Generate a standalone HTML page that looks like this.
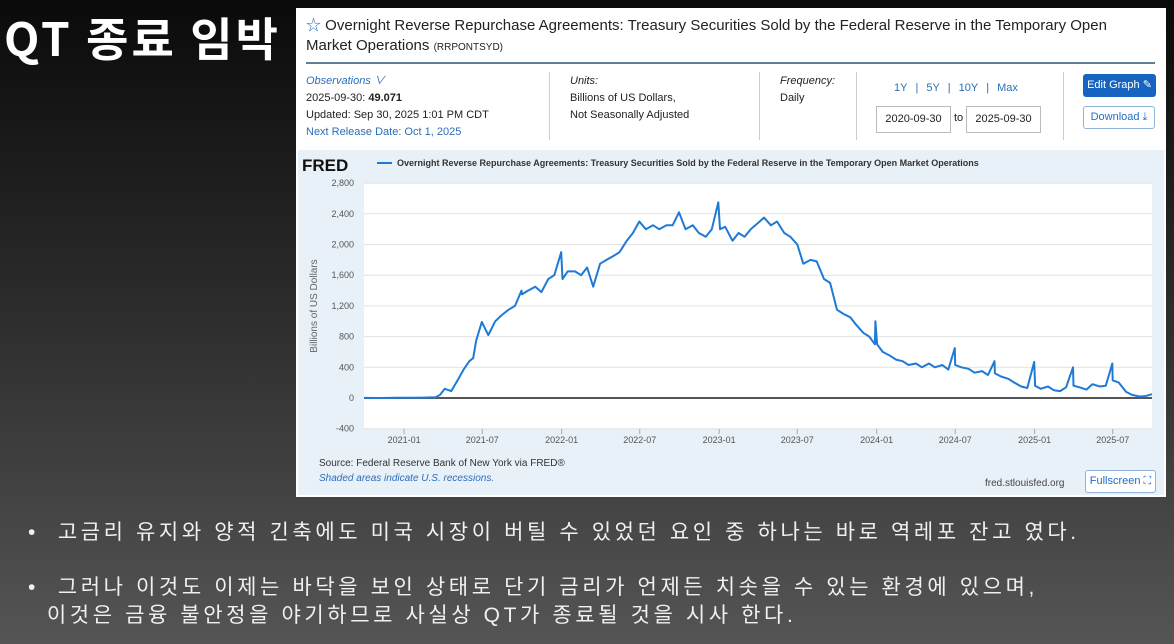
<!DOCTYPE html>
<html><head><meta charset="utf-8">
<style>
body{margin:0;width:1174px;height:644px;overflow:hidden;background:linear-gradient(180deg,#0a0a0a 0%,#2a2a2a 45%,#555 100%);font-family:"Liberation Sans","Noto Sans CJK KR",sans-serif;position:relative}
.abs{position:absolute}
#title{left:4px;top:4px;color:#fff;font-size:46px;font-weight:bold;font-family:"Noto Sans CJK KR","Liberation Sans",sans-serif;letter-spacing:3px;white-space:nowrap}
#panel{left:296px;top:8px;width:870px;height:489px;background:#fff}
.b{color:#f0f0f0;font-size:21px;letter-spacing:3.6px;font-family:"Liberation Sans","Noto Sans CJK KR",sans-serif;white-space:nowrap}
.sm{font-size:11px;color:#222}
.lnk{color:#2a6ebb}
.btn{border:1px solid #8fb3d9;border-radius:3px;color:#1f6fc5;font-size:11px;text-align:center}
</style></head><body>
<div id="title" class="abs">QT 종료 임박</div>
<div id="panel" class="abs">
  <div class="abs" style="left:10px;top:8px;width:850px;font-size:15px;color:#222;line-height:20px"><span style="color:#2a6ebb">☆</span> Overnight Reverse Repurchase Agreements: Treasury Securities Sold by the Federal Reserve in the Temporary Open Market Operations <span style="font-size:10px">(RRPONTSYD)</span></div>
  <div class="abs" style="left:10px;top:54px;width:849px;height:2px;background:#5f7f96"></div>
  <div class="abs sm" style="left:10px;top:65px;line-height:17px"><i class="lnk">Observations ∨</i><br>2025-09-30: <b>49.071</b><br>Updated: Sep 30, 2025 1:01 PM CDT<br><span class="lnk">Next Release Date: Oct 1, 2025</span></div>
  <div class="abs" style="left:253px;top:64px;width:1px;height:68px;background:#ccc"></div>
  <div class="abs sm" style="left:274px;top:65px;line-height:17px"><i>Units:</i><br>Billions of US Dollars,<br>Not Seasonally Adjusted</div>
  <div class="abs" style="left:463px;top:64px;width:1px;height:68px;background:#ccc"></div>
  <div class="abs sm" style="left:484px;top:65px;line-height:17px"><i>Frequency:</i><br>Daily</div>
  <div class="abs" style="left:560px;top:64px;width:1px;height:68px;background:#ccc"></div>
  <div class="abs" style="left:590px;top:74px;font-size:11px;color:#2a6ebb;word-spacing:0"><span style="padding:0 8px">1Y</span>|<span style="padding:0 8px">5Y</span>|<span style="padding:0 8px">10Y</span>|<span style="padding:0 8px">Max</span></div>
  <div class="abs sm" style="left:580px;top:98px;width:73px;height:25px;border:1px solid #bbb;line-height:25px;text-align:center">2020-09-30</div>
  <div class="abs sm" style="left:658px;top:104px">to</div>
  <div class="abs sm" style="left:670px;top:98px;width:73px;height:25px;border:1px solid #bbb;line-height:25px;text-align:center">2025-09-30</div>
  <div class="abs" style="left:767px;top:64px;width:1px;height:68px;background:#ccc"></div>
  <div class="abs btn" style="left:787px;top:66px;width:71px;height:21px;line-height:21px;background:#1565c0;color:#fff;border-color:#1565c0">Edit Graph ✎</div>
  <div class="abs btn" style="left:787px;top:98px;width:70px;height:21px;line-height:21px">Download ⤓</div>
  <div class="abs" style="left:2px;top:142px;width:866px;height:345px;background:#e8f0f8"></div>
  <div class="abs btn" style="left:789px;top:462px;width:69px;height:21px;line-height:21px;background:#fff">Fullscreen ⛶</div>
</div>
<svg class="abs" style="left:0;top:0" width="1174" height="644">
<g id="g"></g>
</svg>
<div class="abs b" style="left:28px;top:516px">•&nbsp;&nbsp;고금리 유지와 양적 긴축에도 미국 시장이 버틸 수 있었던 요인 중 하나는 바로 역레포 잔고 였다.</div>
<div class="abs b" style="left:28px;top:574px;line-height:28px">•&nbsp;&nbsp;그러나 이것도 이제는 바닥을 보인 상태로 단기 금리가 언제든 치솟을 수 있는 환경에 있으며,<br>&nbsp;&nbsp;이것은 금융 불안정을 야기하므로 사실상 QT가 종료될 것을 시사 한다.</div>
<script>
const dates=["2020-09-30","2020-11-01","2020-12-15","2021-01-15","2021-02-15","2021-03-15","2021-03-25","2021-04-05","2021-04-20","2021-05-05","2021-05-20","2021-06-01","2021-06-10","2021-06-17","2021-06-30","2021-07-15","2021-07-31","2021-08-15","2021-08-31","2021-09-15","2021-09-30","2021-10-01","2021-10-15","2021-11-01","2021-11-15","2021-12-01","2021-12-15","2021-12-31","2022-01-03","2022-01-15","2022-02-01","2022-02-15","2022-03-01","2022-03-15","2022-03-31","2022-04-15","2022-05-01","2022-05-15","2022-06-01","2022-06-15","2022-06-30","2022-07-15","2022-08-01","2022-08-15","2022-09-01","2022-09-15","2022-09-30","2022-10-15","2022-11-01","2022-11-15","2022-12-01","2022-12-15","2022-12-30","2023-01-03","2023-01-15","2023-02-01","2023-02-15","2023-03-01","2023-03-15","2023-04-01","2023-04-15","2023-05-01","2023-05-15","2023-06-01","2023-06-15","2023-07-01","2023-07-15","2023-08-01","2023-08-15","2023-09-01","2023-09-15","2023-10-01","2023-10-15","2023-11-01","2023-11-15","2023-12-01","2023-12-15","2023-12-28","2023-12-29","2024-01-02","2024-01-15","2024-02-01","2024-02-15","2024-03-01","2024-03-15","2024-04-01","2024-04-15","2024-05-01","2024-05-15","2024-06-01","2024-06-15","2024-06-30","2024-07-01","2024-07-15","2024-08-01","2024-08-15","2024-09-01","2024-09-15","2024-09-30","2024-10-01","2024-10-15","2024-11-01","2024-11-15","2024-12-01","2024-12-15","2024-12-31","2025-01-02","2025-01-15","2025-02-01","2025-02-15","2025-03-01","2025-03-15","2025-03-31","2025-04-01","2025-04-15","2025-05-01","2025-05-15","2025-06-01","2025-06-15","2025-06-30","2025-07-01","2025-07-15","2025-08-01","2025-08-15","2025-09-01","2025-09-15","2025-09-30"];
const values=[1,0,2,3,5,10,40,120,90,230,380,480,520,750,990,820,1000,1080,1150,1200,1400,1350,1400,1450,1380,1550,1600,1900,1550,1650,1650,1600,1700,1450,1750,1800,1850,1900,2050,2150,2300,2200,2250,2200,2250,2250,2420,2200,2250,2150,2100,2200,2550,2200,2230,2050,2150,2100,2200,2280,2350,2250,2300,2150,2100,2000,1750,1800,1780,1550,1500,1150,1100,1050,950,850,800,700,1000,700,600,550,500,480,430,450,400,450,400,430,370,650,430,400,380,330,350,300,480,320,280,250,200,150,130,470,160,120,150,100,90,140,400,160,140,110,180,150,160,450,230,200,80,40,20,25,49];
const yTicks=[-400,0,400,800,1200,1600,2000,2400,2800];
const xTicks=["2021-01","2021-07","2022-01","2022-07","2023-01","2023-07","2024-01","2024-07","2025-01","2025-07"];
const X0=364,X1=1152,Y0=398,PPU=30.7/400;
const t0=Date.parse("2020-09-30"),t1=Date.parse("2025-09-30");
const xs=d=>X0+(Date.parse(d)-t0)/(t1-t0)*(X1-X0);
const ys=v=>Y0-v*PPU;
const NS="http://www.w3.org/2000/svg";
const g=document.getElementById('g');
function mk(t,a){const e=document.createElementNS(NS,t);for(const k in a)e.setAttribute(k,a[k]);g.appendChild(e);return e;}
let r=mk('rect',{x:X0,y:ys(2800),width:X1-X0,height:ys(-400)-ys(2800),fill:'#fff'});


yTicks.forEach(v=>{
 const l=mk('line',{x1:X0,x2:X1,y1:ys(v),y2:ys(v),stroke:v===0?'#555':'#e2e2e2','stroke-width':v===0?2:1});
 
 
 const t=mk('text',{x:354,y:ys(v)+3,'text-anchor':'end','font-size':9,fill:'#555','font-family':'Liberation Sans'});
 t.textContent=v.toLocaleString('en-US');
 
 
});
xTicks.forEach(d=>{
 const x=xs(d+"-01");
 mk('line',{x1:x,x2:x,y1:429,y2:434,stroke:'#aaa'});
 const t=mk('text',{x:x,y:443,'text-anchor':'middle','font-size':9,fill:'#555','font-family':'Liberation Sans'});
 t.textContent=d;
 
 
});
let p=mk('polyline',{points:dates.map((d,i)=>xs(d).toFixed(1)+','+ys(values[i]).toFixed(1)).join(' '),fill:'none',stroke:'#1f7ad6','stroke-width':2,'stroke-linejoin':'round'});


function txt(x,y,s,a){const t=mk('text',Object.assign({x:x,y:y,'font-family':'Liberation Sans'},a));t.textContent=s;return t;}
let yt=txt(0,0,'Billions of US Dollars',{'font-size':10,fill:'#666',transform:'translate(317,306) rotate(-90)','text-anchor':'middle'});


let fr=txt(302,171,'FRED',{'font-size':17,'font-weight':'bold',fill:'#111'});


mk('line',{x1:377,x2:392,y1:163,y2:163,stroke:'#1f7ad6','stroke-width':2});
let lg=txt(397,166,'Overnight Reverse Repurchase Agreements: Treasury Securities Sold by the Federal Reserve in the Temporary Open Market Operations',{'font-size':9,'font-weight':'bold',fill:'#333'});


let s1=txt(319,466,'Source: Federal Reserve Bank of New York via FRED®',{'font-size':10,fill:'#333'});


let s2=txt(319,481,'Shaded areas indicate U.S. recessions.',{'font-size':10,fill:'#2a6ebb','font-style':'italic'});


let s3=txt(985,486,'fred.stlouisfed.org',{'font-size':10,fill:'#444'});


</script>
</body></html>
